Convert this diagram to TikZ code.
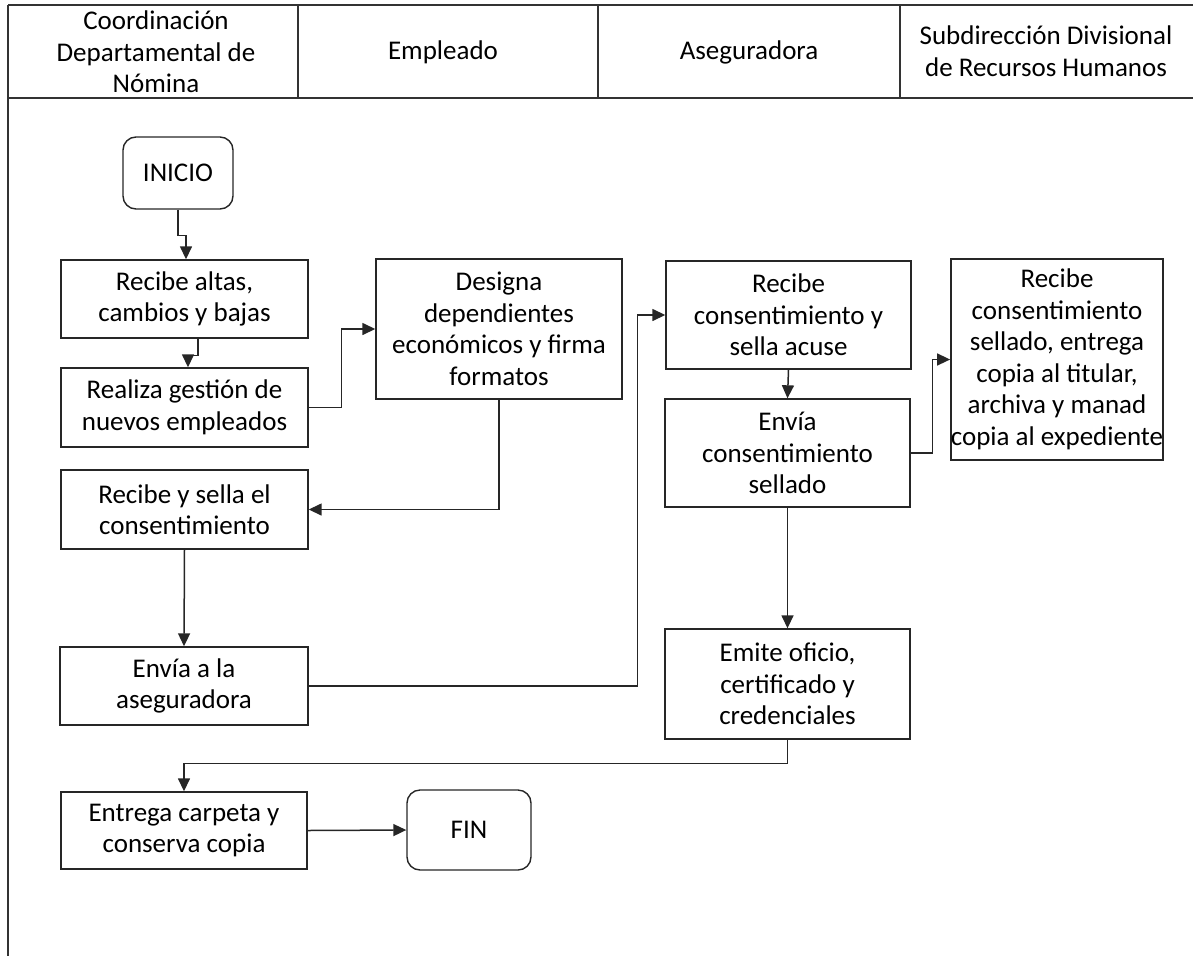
\documentclass[tikz,border=0pt]{standalone}
\usepackage{fontspec}
\setmainfont{Carlito}
\usetikzlibrary{arrows.meta}
\begin{document}
\begin{tikzpicture}[x=1pt,y=-1pt,
  txt/.style={font=\fontsize{27}{31.5}\selectfont, align=center, inner sep=0pt},
  box/.style={txt, draw=black!85, line width=1.4pt, anchor=center},
  term/.style={box, rounded corners=13pt},
  arr/.style={draw=black!85, line width=1.5pt, -{Triangle[length=13pt,width=12pt]}},
  rule/.style={draw=black!80, line width=1.2pt}]
\useasboundingbox (0,0) rectangle (1193,956);
% header
\draw[rule] (8,5) -- (1193,5);
\draw[rule] (8,98) -- (1193,98);
\draw[rule] (8,5) -- (8,956);
\draw[rule] (298,5) -- (298,98);
\draw[rule] (598,5) -- (598,98);
\draw[rule] (900,5) -- (900,98);
\node[txt] (h1) at (156,52) {Coordinación\\Departamental de\\Nómina};
\node[txt] (h2) at (443,52) {Empleado};
\node[txt] (h3) at (749,52) {Aseguradora};
\node[txt] (h4) at (1046,51) {Subdirección Divisional\\de Recursos Humanos};
% nodes
\node[term, minimum width=110pt, minimum height=72pt] (inicio) at (178,173) {INICIO};
\node[box, minimum width=247pt, minimum height=78pt] (r1) at (184.5,299) {Recibe altas,\\cambios y bajas};
\node[box, minimum width=247pt, minimum height=79pt] (r2) at (184.5,407.5) {Realiza gestión de\\nuevos empleados};
\node[box, minimum width=246pt, minimum height=140pt] (d) at (499,329) {Designa\\dependientes\\económicos y firma\\formatos};
\node[box, minimum width=247pt, minimum height=79pt] (r3) at (184.5,509.5) {Recibe y sella el\\consentimiento};
\node[box, minimum width=248pt, minimum height=78pt] (r4) at (184,686) {Envía a la\\aseguradora};
\node[box, minimum width=245pt, minimum height=108pt] (a1) at (788.5,315) {Recibe\\consentimiento y\\sella acuse};
\node[box, minimum width=245pt, minimum height=108pt] (a2) at (787.5,453) {Envía\\consentimiento\\sellado};
\node[box, minimum width=245pt, minimum height=110pt] (a3) at (787.5,684) {Emite oficio,\\certificado y\\credenciales};
\node[box, minimum width=212pt, minimum height=201pt] (s1) at (1057,359.5) {Recibe\\consentimiento\\sellado, entrega\\copia al titular,\\archiva y manad\\copia al expediente};
\node[box, minimum width=246pt, minimum height=77pt] (e) at (184,830.5) {Entrega carpeta y\\conserva copia};
\node[term, minimum width=124pt, minimum height=80pt] (fin) at (469,830) {FIN};
% connectors
\draw[arr] (inicio.south) -- ++(0,26) -| ([xshift=1.5pt]r1.north);
\draw[arr] ([xshift=13.5pt]r1.south) -- ++(0,17) -| ([xshift=3.5pt]r2.north);
\draw[arr] (r2.east) -- ++(33,0) |- (d.west);
\draw[arr] (d.south) |- (r3.east);
\draw[arr] (r3.south) -- (r4.north);
\draw[arr] (r4.east) -- ++(329,0) |- (a1.west);
\draw[arr] (a1.south) -- (a2.north);
\draw[arr] (a2.east) -- ++(22,0) |- (s1.west);
\draw[arr] (a2.south) -- (a3.north);
\draw[arr] (a3.south) -- ++(0,24) -| (e.north);
\draw[arr] (e.east) -- (fin.west);
\end{tikzpicture}
\end{document}
